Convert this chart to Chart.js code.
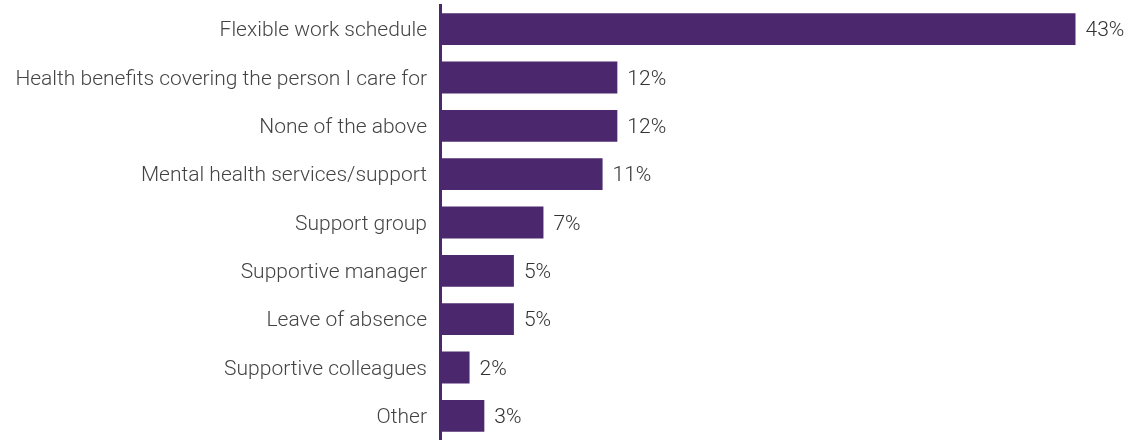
<!DOCTYPE html>
<html>
<head>
<meta charset="utf-8">
<script src="https://cdn.jsdelivr.net/npm/chart.js@4"></script>
<style>
  html, body { margin: 0; padding: 0; background: #fff; }
  #wrap { width: 1142px; height: 440px; }
</style>
</head>
<body>
<div id="wrap"><canvas id="supportChart" width="1142" height="440"></canvas></div>
<script>
// Support options named by caregivers (% of respondents)
const categories = [
    'Flexible work schedule',
    'Health benefits covering the person I care for',
    'None of the above',
    'Mental health services/support',
    'Support group',
    'Supportive manager',
    'Leave of absence',
    'Supportive colleagues',
    'Other'
];
const shares = [43, 12, 12, 11, 7, 5, 5, 2, 3];

const purple = '#4b286d';
const fontFamily = 'Roboto, "Liberation Sans", sans-serif';

// writes "NN%" just past the end of each bar
const valueLabels = {
    id: 'valueLabels',
    afterDatasetsDraw(chart) {
        const c = chart.ctx;
        const meta = chart.getDatasetMeta(0);
        c.save();
        c.font = '300 21px ' + fontFamily;
        c.fillStyle = '#333';
        c.textAlign = 'left';
        c.textBaseline = 'middle';
        meta.data.forEach((bar, i) => {
            c.fillText(shares[i] + '%', bar.x + 10, bar.y + 2);
        });
        c.restore();
    }
};

const ctx = document.getElementById('supportChart').getContext('2d');
const supportChart = new Chart(ctx, {
    type: 'bar',
    data: {
        labels: categories,
        datasets: [{
            data: shares,
            backgroundColor: purple,
            borderWidth: 0,
            categoryPercentage: 1,
            barPercentage: 0.66
        }]
    },
    options: {
        indexAxis: 'y',
        responsive: false,
        animation: false,
        layout: { padding: { top: 5, right: 0, bottom: 0, left: 0 } },
        plugins: {
            legend: { display: false },
            tooltip: { enabled: false }
        },
        scales: {
            x: {
                display: false,
                min: 0,
                max: 47.5
            },
            y: {
                // fixed gutter for the labels, and no extra padding above/below
                afterFit: (scale) => {
                    scale.width = 440;
                    scale.paddingTop = 0;
                    scale.paddingBottom = 0;
                },
                grid: { display: false, drawTicks: false },
                border: { display: true, color: purple, width: 3 },
                ticks: {
                    padding: 13,
                    labelOffset: 2,
                    color: '#444',
                    font: { family: fontFamily, size: 21, weight: '300' }
                }
            }
        }
    },
    plugins: [valueLabels]
});
</script>
</body>
</html>
